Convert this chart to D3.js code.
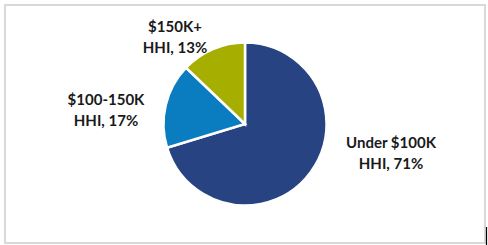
<!DOCTYPE html>
<html lang="en">
<head>
<meta charset="UTF-8">
<title>Household income share pie</title>
<script src="https://cdn.jsdelivr.net/npm/d3@7"></script>
<style>
  html, body { margin: 0; padding: 0; background: #fff; }
  svg { display: block; }
  .lbl { font-family: Lato, "Open Sans", sans-serif; font-weight: 700; font-size: 15px; fill: #1a1a1a; }
</style>
</head>
<body>
<div id="chart"></div>
<script>
  // data
  const categories = ["Under $100K", "$100-150K", "$150K+"];
  const shares = [71, 17, 13];
  const colors = ["#274382", "#0a7dc1", "#a6ae00"];

  const width = 488, height = 245;
  const cx = 245, cy = 124, radius = 81.5;

  // label centre offsets from pie centre (Excel placed these by hand, roughly)
  const labelOffset = [[146, 29], [-139, -14], [-70, -87]];

  const svg = d3.select("#chart").append("svg")
    .attr("width", width)
    .attr("height", height);

  // chart frame
  svg.append("rect")
    .attr("x", 5).attr("y", 5)
    .attr("width", 480).attr("height", 238)
    .attr("fill", "none")
    .attr("stroke", "#d9d9d9")
    .attr("stroke-width", 2);

  // stray cursor line in bottom right corner
  svg.append("line")
    .attr("x1", 486.5).attr("x2", 486.5)
    .attr("y1", 227).attr("y2", 245)
    .attr("stroke", "#000").attr("stroke-width", 1.2);

  const pie = d3.pie().sort(null).value(d => d);
  const arc = d3.arc().innerRadius(0).outerRadius(radius);
  const arcs = pie(shares);

  const g = svg.append("g").attr("transform", `translate(${cx},${cy})`);

  g.selectAll("path")
    .data(arcs)
    .enter().append("path")
    .attr("d", arc)
    .attr("fill", (d, i) => colors[i])
    .attr("stroke", "#fff")
    .attr("stroke-width", 2.5)
    .attr("stroke-linejoin", "miter");

  const lbl = g.selectAll("text.lbl")
    .data(arcs)
    .enter().append("text")
    .attr("class", "lbl")
    .attr("text-anchor", "middle")
    .attr("transform", (d, i) => `translate(${labelOffset[i][0]},${labelOffset[i][1]})`);

  lbl.append("tspan")
    .attr("x", 0).attr("y", -5)
    .text((d, i) => categories[i]);
  lbl.append("tspan")
    .attr("x", 0).attr("y", 16)
    .text((d, i) => "HHI, " + d.data + "%");
</script>
</body>
</html>
